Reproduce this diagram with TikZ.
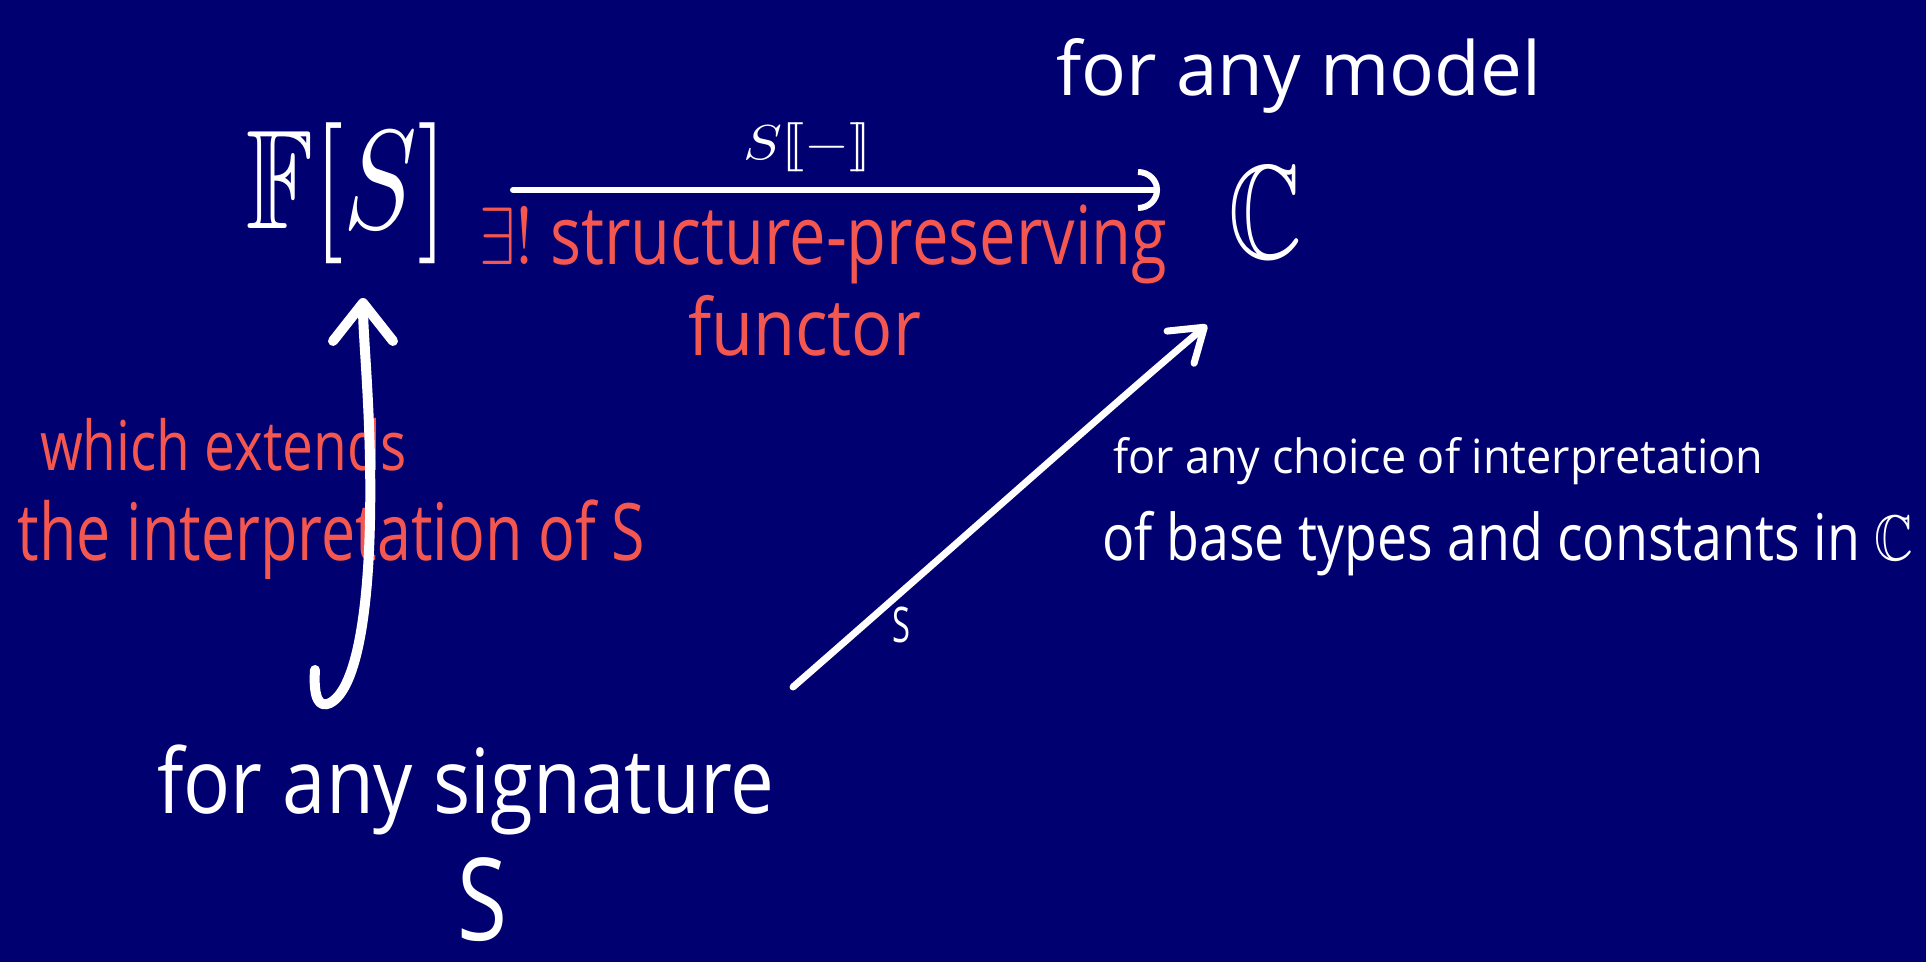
\documentclass[tikz,border=0pt]{standalone}
\usepackage{amssymb}
\usepackage{fontspec}
\setmainfont{Open Sans}
\usetikzlibrary{arrows.meta}
\definecolor{bgnavy}{RGB}{0,0,112}
\definecolor{salmon}{RGB}{244,86,80}
\newcommand{\hw}[3]{\scalebox{1}[#2]{\resizebox{#1}{!}{#3}}}
\begin{document}
\begin{tikzpicture}[x=0.5pt,y=-0.5pt,
  txt/.style={inner sep=0pt, outer sep=0pt, text=white, anchor=base west},
  redtxt/.style={txt, text=salmon},
  arr/.style={draw=white, line cap=round, line join=round}]
\fill[bgnavy] (0,0) rectangle (1926,962);
\useasboundingbox (0,0) rectangle (1926,962);
% texts
\node[txt] (model) at (1056,96) {\hw{242.5pt}{1.0}{for any model}};
\node[txt, anchor=north west] (FS) at (246,123) {\resizebox*{101pt}{70.5pt}{$\mathbb{F}[S]$}};
\node[txt, anchor=north west] (interp) at (743,123) {\resizebox*{64.5pt}{24.5pt}{$S[\![-]\!]$}};
\node[txt, anchor=north west] (C) at (1228,166) {\resizebox*{37pt}{46pt}{$\mathbb{C}$}};
\node[redtxt] (exists) at (479,265) {\hw{344pt}{1.25}{$\exists!$ structure-preserving}};
\node[redtxt] (functor) at (688,356) {\hw{116.5pt}{1.15}{functor}};
\node[redtxt] (which) at (40,470) {\hw{183.5pt}{1.25}{which extends}};
\node[redtxt] (theinterp) at (18,560) {\hw{313.5pt}{1.3}{the interpretation of S}};
\node[txt] (sig) at (157,813) {\hw{308.5pt}{1.15}{for any signature}};
\node[txt, anchor=north west] (S) at (457,858) {\resizebox*{25pt}{42pt}{S}};
\node[txt] (choice) at (1113,473) {\hw{325pt}{1.05}{for any choice of interpretation}};
\node[txt] (base) at (1102,560) {\hw{405.5pt}{1.2}{of base types and constants in $\mathbb{C}$}};
\node[txt, anchor=center] (s) at (901,625) {\resizebox*{9pt}{18pt}{S}};
% arrows
\coordinate (h0) at (513,190);
\coordinate (h1) at (1160,190);
\draw[arr, line width=3pt, -{Arc Barb[length=11pt,width=21pt]}] (h0) -- (h1);
\coordinate (v0) at (315,670);
\coordinate (v1) at (330,703);
\coordinate (v2) at (370,520);
\coordinate (v3) at (363,298);
\draw[arr, line width=5pt, -{Straight Barb[round,length=19pt,width=30pt]}] (v0) .. controls (313,700) and (320,708) .. (v1) .. controls (355,690) and (368,620) .. (v2) .. controls (372,420) and (363,340) .. (v3);
\coordinate (d0) at (793,687);
\coordinate (d1) at (1207,325);
\draw[arr, line width=3.5pt, -{Straight Barb[round,length=15.5pt,width=21pt]}] (d0) .. controls (950,550) and (1120,398) .. (d1);
\end{tikzpicture}
\end{document}
